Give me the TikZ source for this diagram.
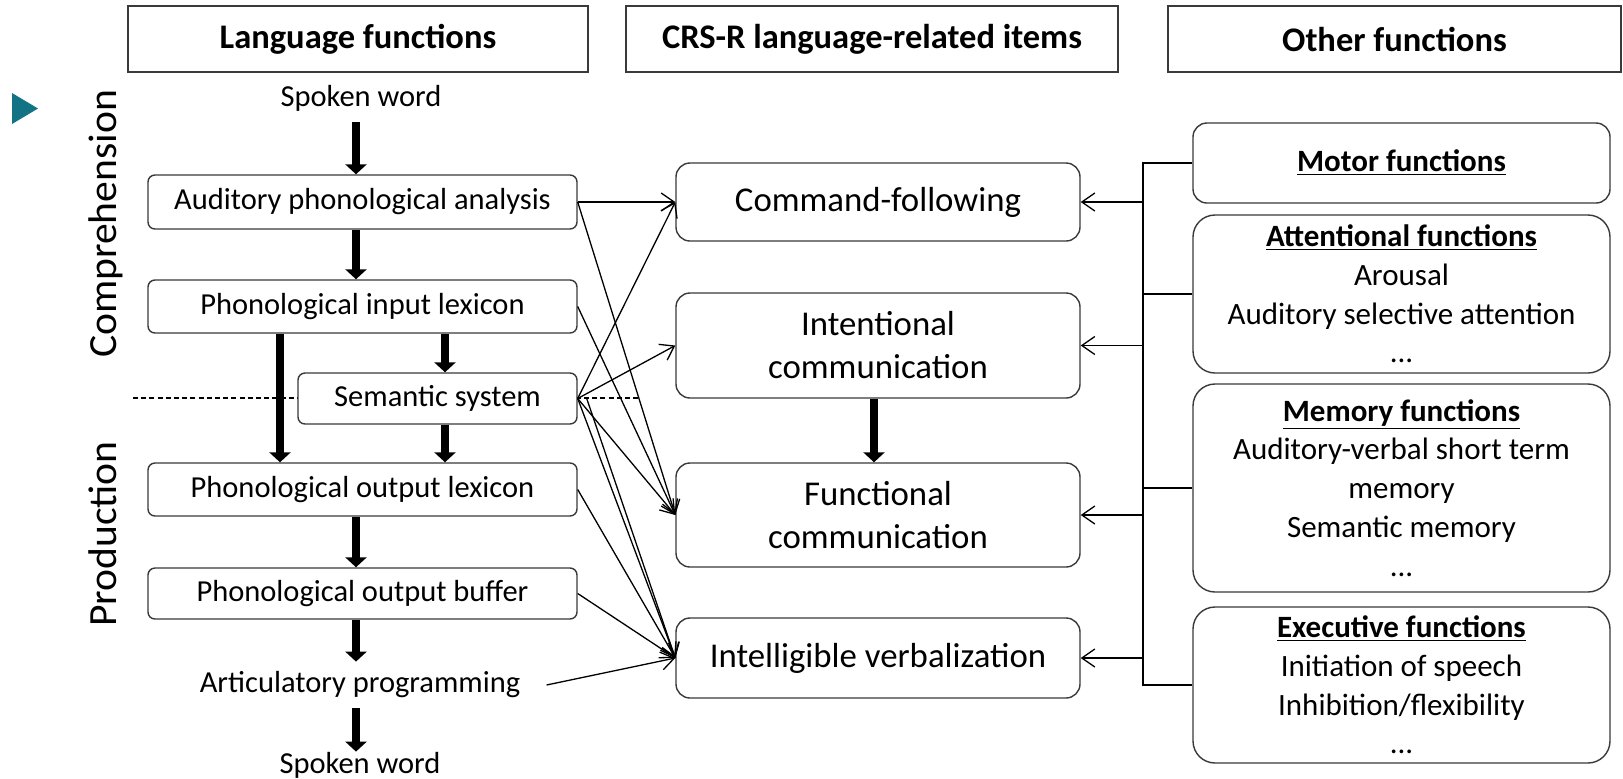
\documentclass[tikz,border=0pt]{standalone}
\usepackage{fontspec}
\setmainfont{Carlito}
\newfontfamily\sidefont[FakeStretch=1.04]{Carlito}
\usetikzlibrary{arrows.meta,calc}
\definecolor{teal1}{HTML}{127384}
\definecolor{edge}{HTML}{3A3A3A}
\begin{document}
\begin{tikzpicture}[x=0.5pt,y=-0.5pt,
  hdr/.style={draw=edge, line width=1pt, fill=white, minimum height=33pt, inner sep=0pt,
    font=\fontsize{17.25}{20}\selectfont\bfseries},
  lbox/.style={draw=edge, line width=0.7pt, fill=white, rounded corners=3.5pt, minimum width=214.5pt,
    inner sep=0pt, font=\fontsize{15.25}{18}\selectfont},
  ltext/.style={inner sep=0pt, font=\fontsize{15.25}{18}\selectfont},
  mbox/.style={draw=edge, line width=0.7pt, fill=white, rounded corners=7pt, minimum width=202pt,
    inner sep=0pt, align=center, font=\fontsize{17.4}{21.5}\selectfont},
  rbox/.style={draw=edge, line width=0.7pt, fill=white, rounded corners=11pt, minimum width=208.5pt,
    inner sep=0pt, align=center, font=\fontsize{15.5}{19.4}\selectfont},
  big/.style={line width=4pt, -{Triangle[length=5pt,width=10.5pt]}},
  thin/.style={line width=0.65pt, -{Straight Barb[length=6.5pt,width=9pt]}},
  link/.style={line width=0.65pt},
  sidelabel/.style={rotate=90, anchor=base, inner sep=0pt, font=\sidefont\fontsize{20}{22}\selectfont}
]
\fill[white] (0,0) rectangle (1623,778);
\useasboundingbox (0,0) rectangle (1623,778);

% marker triangle
\fill[teal1] (12,93) -- (12,124) -- (38,108.5) -- cycle;

% headers
\node[hdr, minimum width=230pt] (h1) at (358,39) {Language functions};
\node[hdr, minimum width=246pt] (h2) at (872,39) {CRS-R language-related items};
\node[hdr, minimum width=226.5pt] (h3) at (1394.5,39) {Other functions};

% side labels
\node[sidelabel] (comp) at (116,224) {Comprehension};
\node[sidelabel] (prod) at (116,534) {Production};

% dashed separator
\coordinate (dashL) at (133,398);
\coordinate (dashR) at (640,398);
\draw[dashed, dash pattern=on 2.5pt off 1.6pt, line width=0.6pt] (dashL) -- (dashR);

% language column
\coordinate (lc) at (356,0);
\coordinate (lc2) at (280,0);
\coordinate (lc3) at (445,0);
\node[ltext, anchor=base, text depth=8pt] (spoken1) at (361,106) {Spoken word};
\node[lbox, minimum height=27pt] (apa) at (362.5,202) {Auditory phonological analysis};
\node[lbox, minimum height=26.5pt] (pil) at (362.5,306.5) {Phonological input lexicon};
\node[lbox, minimum width=139.5pt, minimum height=25.5pt] (sem) at (437.5,398.5) {Semantic system};
\node[lbox, minimum height=26.5pt] (pol) at (362.5,489.5) {Phonological output lexicon};
\node[lbox, minimum height=25.5pt] (pob) at (362.5,593.5) {Phonological output buffer};
\node[ltext, anchor=base, text height=15pt, text depth=8pt] (artic) at (360,692) {Articulatory programming};
\node[ltext, anchor=base, text height=10.5pt] (spoken2) at (360,773) {Spoken word};

% CRS-R column
\node[mbox, minimum height=39pt] (cmd) at (878,202) {Command-following};
\node[mbox, minimum height=52.5pt] (intent) at (878,345.5) {Intentional\\communication};
\node[mbox, minimum height=52pt] (func) at (878,515) {Functional\\communication};
\node[mbox, minimum height=40pt] (intel) at (878,658) {Intelligible verbalization};

% other functions column
\node[rbox, rounded corners=7pt, minimum height=40pt] (motor) at (1401.5,163)
  {\underline{\textbf{Motor functions}}};
\node[rbox, minimum height=79pt] (attn) at (1401.5,294)
  {\underline{\textbf{Attentional functions}}\\Arousal\\Auditory selective attention\\...};
\node[rbox, minimum height=104pt] (mem) at (1401.5,488)
  {\underline{\textbf{Memory functions}}\\Auditory-verbal short term\\memory\\Semantic memory\\...};
\node[rbox, minimum height=78pt] (exec) at (1401.5,685)
  {\underline{\textbf{Executive functions}}\\Initiation of speech\\Inhibition/flexibility\\...};

% thick arrows
\draw[big] (spoken1.south -| lc) -- (apa.north -| lc);
\draw[big] (apa.south -| lc) -- (pil.north -| lc);
\draw[big] (pil.south -| lc2) -- (pol.north -| lc2);
\draw[big] (pil.south -| lc3) -- (sem.north -| lc3);
\draw[big] (sem.south -| lc3) -- (pol.north -| lc3);
\draw[big] (pol.south -| lc) -- (pob.north -| lc);
\draw[big] (pob.south -| lc) -- (artic.north -| lc);
\draw[big] (artic.south -| lc) -- (spoken2.north -| lc);
\draw[big] ([xshift=-2pt]intent.south) -- ([xshift=-2pt]func.north);

% thin connectors language -> CRS-R
\draw[thin] (apa.east) -- (cmd.west);
\draw[thin] (apa.east) -- (func.west);
\draw[thin] (pil.east) -- (func.west);
\draw[thin] (sem.east) -- (cmd.west);
\draw[thin] (sem.east) -- (intent.west);
\draw[thin] (sem.east) -- (func.west);
\draw[thin] (sem.east) -- (intel.west);
\draw[thin] ($(sem.east)+(9,0)$) -- (intel.west);
\draw[thin] (pol.east) -- (intel.west);
\draw[thin] (pob.east) -- (intel.west);
\draw[thin] ($(artic.east)+(26,0)$) -- (intel.west);

% bracket from other functions
\coordinate (br) at (1143,0);
\draw[link] (motor.west) -- (motor.west -| br) -- (exec.west -| br) -- (exec.west);
\draw[link] (attn.west) -- (attn.west -| br);
\draw[link] (mem.west) -- (mem.west -| br);
\draw[thin] (cmd.east -| br) -- (cmd.east);
\draw[thin] (intent.east -| br) -- (intent.east);
\draw[thin] (func.east -| br) -- (func.east);
\draw[thin] (intel.east -| br) -- (intel.east);
\end{tikzpicture}
\end{document}
